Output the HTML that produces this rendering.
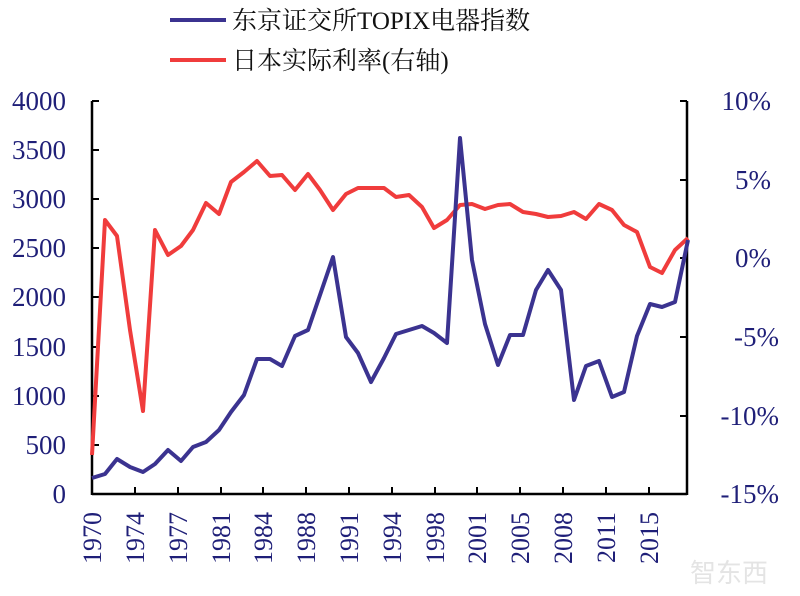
<!DOCTYPE html>
<html><head><meta charset="utf-8"><style>
html,body{margin:0;padding:0;background:#fff;}
svg{display:block;}
text{font-family:"Liberation Serif","Noto Serif CJK SC",serif;fill:#1f1f78;}
</style></head><body>
<svg width="800" height="596" viewBox="0 0 800 596" xmlns="http://www.w3.org/2000/svg">
<rect width="800" height="596" fill="#fff"/>
<line x1="170" y1="20" x2="226" y2="20" stroke="#3b3390" stroke-width="4"/>
<text x="232" y="29" font-size="25" style="fill:#111">东京证交所TOPIX电器指数</text>
<line x1="170" y1="60" x2="226" y2="60" stroke="#f03c3c" stroke-width="4"/>
<text x="232" y="69" font-size="25" style="fill:#111">日本实际利率(右轴)</text>
<g stroke="#000" stroke-width="2.5" fill="none">
<line x1="92" y1="101" x2="92" y2="495"/>
<line x1="92" y1="494" x2="687" y2="494"/>
<line x1="687" y1="101" x2="687" y2="495"/>
</g>
<g stroke="#000" stroke-width="2">
<line x1="92" y1="101" x2="99" y2="101"/><line x1="92" y1="150" x2="99" y2="150"/>
<line x1="92" y1="199" x2="99" y2="199"/><line x1="92" y1="248" x2="99" y2="248"/>
<line x1="92" y1="297" x2="99" y2="297"/><line x1="92" y1="347" x2="99" y2="347"/>
<line x1="92" y1="396" x2="99" y2="396"/><line x1="92" y1="445" x2="99" y2="445"/>
<line x1="680" y1="101" x2="687" y2="101"/><line x1="680" y1="180" x2="687" y2="180"/>
<line x1="680" y1="258" x2="687" y2="258"/><line x1="680" y1="337" x2="687" y2="337"/>
<line x1="680" y1="416" x2="687" y2="416"/>
<line x1="135" y1="487" x2="135" y2="494"/><line x1="178" y1="487" x2="178" y2="494"/>
<line x1="221" y1="487" x2="221" y2="494"/><line x1="263" y1="487" x2="263" y2="494"/>
<line x1="306" y1="487" x2="306" y2="494"/><line x1="349" y1="487" x2="349" y2="494"/>
<line x1="392" y1="487" x2="392" y2="494"/><line x1="435" y1="487" x2="435" y2="494"/>
<line x1="477" y1="487" x2="477" y2="494"/><line x1="520" y1="487" x2="520" y2="494"/>
<line x1="563" y1="487" x2="563" y2="494"/><line x1="606" y1="487" x2="606" y2="494"/>
<line x1="649" y1="487" x2="649" y2="494"/>
</g>
<g font-size="27" text-anchor="end">
<text x="66" y="110">4000</text><text x="66" y="159">3500</text><text x="66" y="208">3000</text>
<text x="66" y="257">2500</text><text x="66" y="306">2000</text><text x="66" y="356">1500</text>
<text x="66" y="405">1000</text><text x="66" y="454">500</text><text x="66" y="503">0</text>
</g>
<g font-size="27" text-anchor="end">
<text x="771" y="110">10%</text><text x="771" y="189">5%</text><text x="771" y="267">0%</text>
<text x="779" y="346">-5%</text><text x="779" y="425">-10%</text><text x="779" y="503">-15%</text>
</g>
<g font-size="26" text-anchor="end">
<text transform="translate(101,512) rotate(-90)">1970</text>
<text transform="translate(144,512) rotate(-90)">1974</text>
<text transform="translate(187,512) rotate(-90)">1977</text>
<text transform="translate(230,512) rotate(-90)">1981</text>
<text transform="translate(272,512) rotate(-90)">1984</text>
<text transform="translate(315,512) rotate(-90)">1988</text>
<text transform="translate(358,512) rotate(-90)">1991</text>
<text transform="translate(401,512) rotate(-90)">1994</text>
<text transform="translate(444,512) rotate(-90)">1998</text>
<text transform="translate(486,512) rotate(-90)">2001</text>
<text transform="translate(529,512) rotate(-90)">2005</text>
<text transform="translate(572,512) rotate(-90)">2008</text>
<text transform="translate(615,512) rotate(-90)">2011</text>
<text transform="translate(658,512) rotate(-90)">2015</text>
</g>
<text x="690" y="582" font-size="26" style="fill:#e4e4e4;font-family:'Noto Sans CJK SC',sans-serif">智东西</text>
<polyline fill="none" stroke="#f03c3c" stroke-width="4" stroke-linejoin="round" points="92,455 105,220 117,236 130,330 143,411 155,230 168,255 181,246 193,230 206,203 219,214 231,182 244,172 257,161 270,176 282,175 295,190 308,174 320,190 333,210 346,194 358,188 371,188 384,188 396,197 409,195 422,207 434,228 447,220 460,205 472,204 485,209 498,205 510,204 523,212 536,214 548,217 561,216 574,212 586,219 599,204 612,210 624,225 637,232 650,267 662,273 675,250 688,238"/>
<polyline fill="none" stroke="#3b3390" stroke-width="4" stroke-linejoin="round" points="92,478 105,474 117,459 130,467 143,472 155,464 168,450 181,461 193,447 206,442 219,430 231,412 244,395 257,359 270,359 282,366 295,336 308,330 320,295 333,257 346,337 358,353 371,382 384,358 396,334 409,330 422,326 434,333 447,343 460,138 472,260 485,324 498,365 510,335 523,335 536,290 548,270 561,290 574,400 586,366 599,361 612,397 624,392 637,336 650,304 662,307 675,302 688,240"/>
</svg>
</body></html>
